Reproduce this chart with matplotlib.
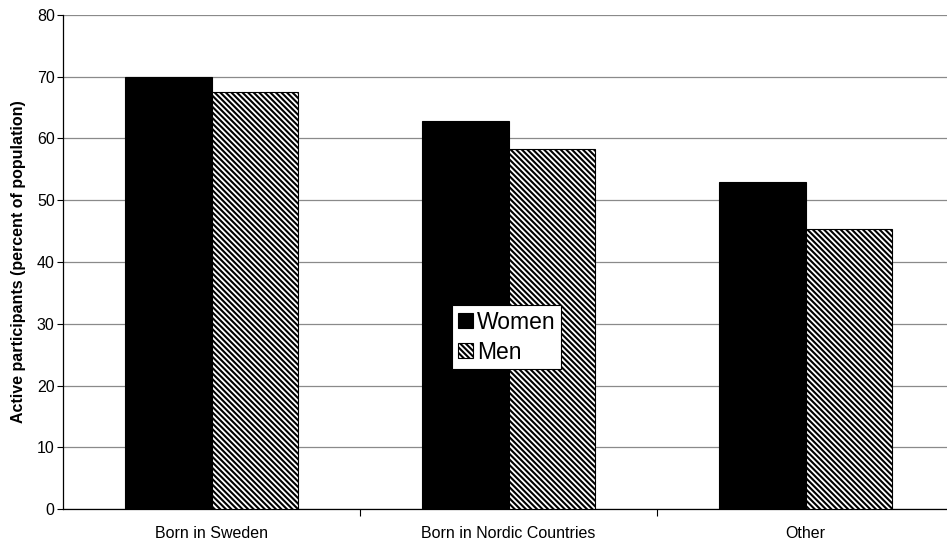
import numpy as np
import matplotlib
matplotlib.use("Agg")
import matplotlib.pyplot as plt

# Active participants by country of birth, percent of population
categories = ["Born in Sweden", "Born in Nordic Countries", "Other"]
women = [70.0, 62.8, 53.0]
men = [67.5, 58.3, 45.3]
y_ticks = [0, 10, 20, 30, 40, 50, 60, 70, 80]

plt.rcParams["font.family"] = ["Liberation Sans", "DejaVu Sans"]
plt.rcParams["hatch.linewidth"] = 1.5


def main():
    fig = plt.figure(figsize=(9.47, 5.44), dpi=100)
    ax = fig.add_axes([63 / 947, 35 / 544, 891 / 947, 494 / 544])

    x = np.arange(len(categories))
    width = 0.29

    ax.bar(x - width / 2, women, width, color="black", edgecolor="black",
           linewidth=0.8, label="Women", zorder=3)
    ax.bar(x + width / 2, men, width, color="white", edgecolor="black",
           hatch="\\\\\\\\\\\\", linewidth=0.8, label="Men", zorder=3)

    ax.set_xlim(-0.5, len(categories) - 0.5)
    ax.set_ylim(0, 80)
    ax.set_yticks(y_ticks)
    ax.yaxis.grid(True, color="#8a8a8a", linewidth=0.9, zorder=0)
    ax.set_axisbelow(True)

    # category labels centred, tick marks only on the boundaries
    ax.set_xticks(x)
    ax.set_xticklabels(categories, fontsize=11.5)
    ax.tick_params(axis="x", length=0, pad=12)
    ax.set_xticks(np.arange(len(categories) - 1) + 0.5, minor=True)
    ax.tick_params(axis="x", which="minor", length=5, width=0.8)
    ax.tick_params(axis="y", labelsize=11.5, length=4, width=0.8, pad=2)

    for side in ["top", "right"]:
        ax.spines[side].set_visible(False)
    ax.spines["left"].set_linewidth(0.9)
    ax.spines["bottom"].set_linewidth(0.9)

    ax.set_ylabel("Active participants (percent of population)",
                  fontsize=11.5, fontweight="bold", labelpad=8)

    leg = ax.legend(loc="center", bbox_to_anchor=(0.498, 0.348),
                    fontsize=16.5, frameon=True, fancybox=False,
                    edgecolor="black", framealpha=1,
                    handlelength=0.65, handleheight=0.65,
                    handletextpad=0.2, labelspacing=0.3,
                    borderpad=0.25, borderaxespad=0)
    leg.get_frame().set_linewidth(0.8)
    leg.set_zorder(5)

    fig.savefig("out.png", dpi=100)
    plt.close(fig)


if __name__ == "__main__":
    main()
